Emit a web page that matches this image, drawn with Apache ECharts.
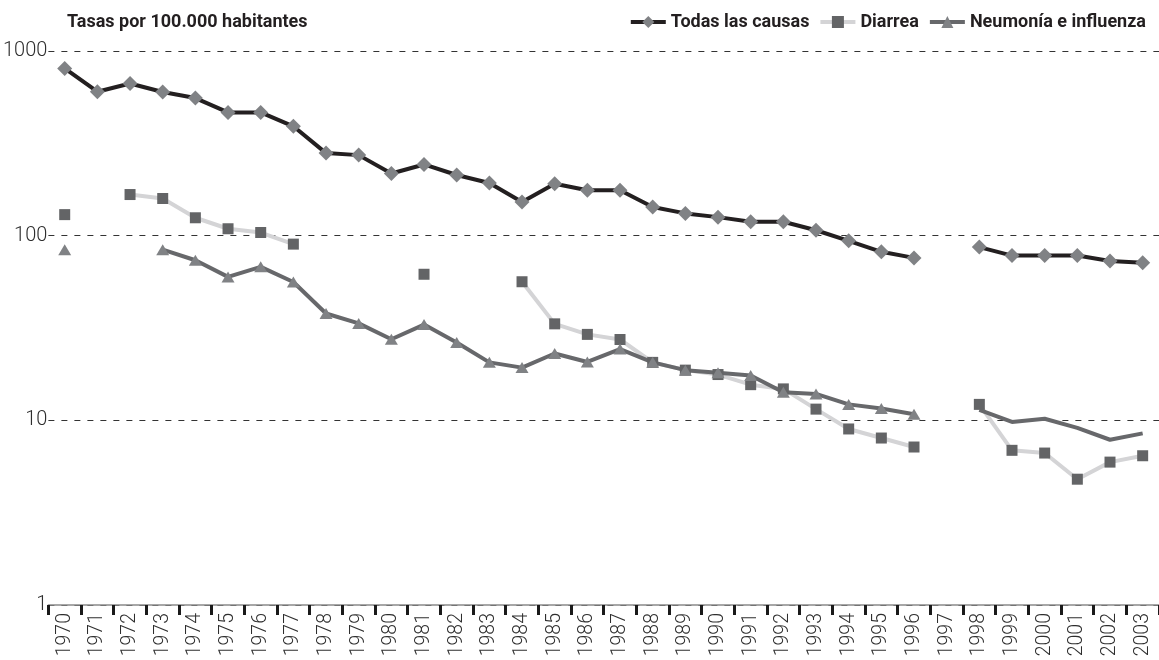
<!DOCTYPE html>
<html>
<head>
<meta charset="utf-8">
<script src="https://cdn.jsdelivr.net/npm/echarts@6/dist/echarts.min.js"></script>
<style>
  html, body { margin: 0; padding: 0; background: #ffffff; }
  #chart { width: 1159px; height: 660px; }
</style>
</head>
<body>
<div id="chart"></div>
<script>
// Tasas por 100.000 habitantes, 1970-2003 (escala logarítmica)
const years = ['1970','1971','1972','1973','1974','1975','1976','1977','1978','1979',
  '1980','1981','1982','1983','1984','1985','1986','1987','1988','1989',
  '1990','1991','1992','1993','1994','1995','1996','1997','1998','1999',
  '2000','2001','2002','2003'];

const todasLasCausas = [805, 602, 667, 600, 556, 465, 465, 391, 280, 273,
  217, 243, 213, 193, 152, 191, 176, 176, 143, 132,
  126, 119, 119, 107, 93.8, 81.8, 75.8, null, 86.7, 78.0,
  78.0, 78.0, 73.0, 71.3];

const diarrea = [130, null, 167, 159, 125, 109, 104, 90, null, null,
  null, 61.8, null, null, 56.3, 33.3, 29.2, 27.4, 20.6, 18.7,
  17.7, 15.6, 14.8, 11.5, 8.98, 8.02, 7.17, null, 12.2, 6.88,
  6.65, 4.8, 5.94, 6.43];

const neumoniaInfluenza = [84, null, null, 84, 73.6, 59.8, 67.8, 56.1, 37.9, 33.5,
  27.5, 33, 26.4, 20.6, 19.3, 23.0, 20.7, 24.3, 20.6, 18.7,
  18.1, 17.5, 14.2, 13.9, 12.2, 11.6, 10.8, null, 11.4, 9.8,
  10.2, 9.1, 7.85, 8.5];

const yTicks = [1, 10, 100, 1000];

// From 1998 on the pneumonia series is drawn as a plain line
const firstPlainYear = years.indexOf('1998');
const neumoniaData = neumoniaInfluenza.map((v, i) =>
  i >= firstPlainYear ? { value: v, symbol: 'none' } : v);

const FONT = 'Roboto, "DejaVu Sans", sans-serif';

const chart = echarts.init(document.getElementById('chart'), null, { renderer: 'canvas' });

chart.setOption({
  animation: false,
  backgroundColor: '#ffffff',
  textStyle: { fontFamily: FONT },
  title: {
    text: 'Tasas por 100.000 habitantes',
    left: 62,
    top: 8,
    textStyle: { fontFamily: FONT, fontSize: 18, fontWeight: 'bold', color: '#231f20' }
  },
  legend: {
    right: 8,
    top: 8,
    itemWidth: 35,
    itemHeight: 15,
    itemGap: 9,
    lineStyle: { width: 4 },
    textStyle: { fontFamily: FONT, fontSize: 18, fontWeight: 'bold', color: '#231f20' },
    data: ['Todas las causas', 'Diarrea', 'Neumonía e influenza']
  },
  grid: { left: 47.8, right: -5, top: 51, bottom: 55 },
  xAxis: {
    type: 'category',
    data: years,
    boundaryGap: true,
    axisLine: { show: true, lineStyle: { color: '#8a8a8a', width: 1.5 } },
    axisTick: { show: true, inside: false, length: 10, lineStyle: { color: '#1a1a1a', width: 3 } },
    axisLabel: {
      rotate: 90, interval: 0, margin: 8,
      fontFamily: FONT, fontSize: 19.5, fontWeight: 300, color: '#2e2e2e'
    },
    splitLine: { show: false }
  },
  yAxis: {
    type: 'log',
    logBase: 10,
    min: yTicks[0],
    max: yTicks[yTicks.length - 1],
    axisLine: { show: false },
    axisTick: { show: false },
    axisLabel: {
      margin: 1,
      fontFamily: FONT, fontSize: 20, fontWeight: 300, color: '#2e2e2e',
      formatter: v => String(Math.round(v))
    },
    splitLine: {
      show: true,
      lineStyle: { color: '#333333', width: 1.2, type: [6, 7] }
    }
  },
  series: [
    {
      name: 'Todas las causas',
      type: 'line',
      data: todasLasCausas,
      connectNulls: false,
      showAllSymbol: true,
      symbol: 'diamond',
      symbolSize: 15,
      lineStyle: { color: '#231f20', width: 4 },
      itemStyle: { color: '#808285', borderWidth: 0 },
      z: 3
    },
    {
      name: 'Diarrea',
      type: 'line',
      data: diarrea,
      connectNulls: false,
      showAllSymbol: true,
      symbol: 'rect',
      symbolSize: 11,
      lineStyle: { color: '#d4d4d6', width: 4 },
      itemStyle: { color: '#636466', borderWidth: 0 },
      z: 2
    },
    {
      name: 'Neumonía e influenza',
      type: 'line',
      data: neumoniaData,
      connectNulls: false,
      showAllSymbol: true,
      symbol: 'triangle',
      symbolSize: [13, 11],
      lineStyle: { color: '#67686b', width: 4 },
      itemStyle: { color: '#808285', borderWidth: 0 },
      z: 2
    }
  ]
});
</script>
</body>
</html>
